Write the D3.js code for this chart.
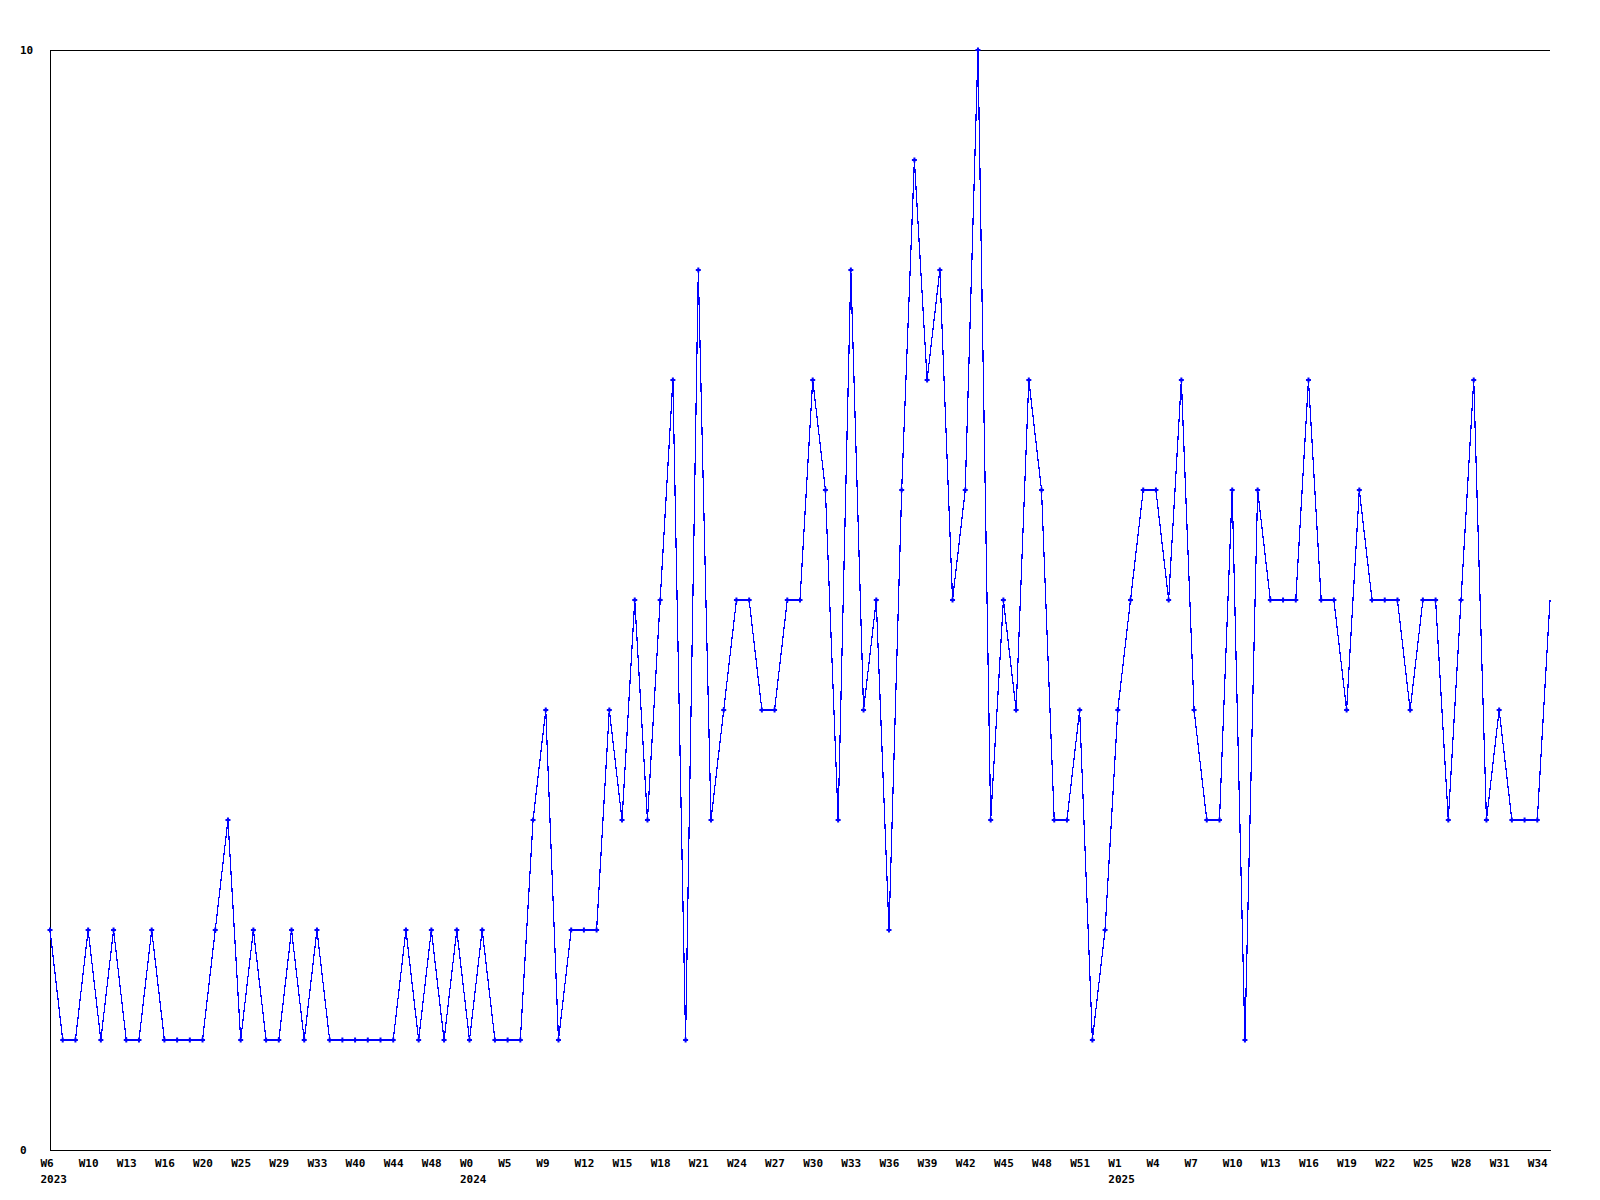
<!DOCTYPE html>
<html>
<head>
<meta charset="utf-8">
<script src="https://cdn.jsdelivr.net/npm/d3@7"></script>
<style>
  html, body { margin: 0; padding: 0; background: #ffffff; }
  svg { display: block; }
  text { font-family: "DejaVu Sans Mono", "Liberation Mono", monospace; font-weight: bold; font-size: 11px; fill: #000; }
</style>
</head>
<body>
<svg id="chart" width="1600" height="1200"></svg>
<script>
// Weekly counts, one value per point (index 0 = 2023 W6)
const values = [
  2,1,1,2,1,2,1,1,2,1,1,1,1,2,3,1,2,1,1,2,
  1,2,1,1,1,1,1,1,2,1,2,1,2,1,2,1,1,1,3,4,
  1,2,2,2,4,3,5,3,5,7,1,8,3,4,5,5,4,4,5,5,
  7,6,3,8,4,5,2,6,9,7,8,5,6,10,3,5,4,7,6,3,
  3,4,1,2,4,5,6,6,5,7,4,3,3,6,1,6,5,5,5,7,
  5,5,4,6,5,5,5,4,5,5,3,5,7,3,4,3,3,3,5
];
// x tick labels, one every 3 points starting at index 0
const tickLabels = [
  "W6","W10","W13","W16","W20","W25","W29","W33","W40","W44","W48",
  "W0","W5","W9","W12","W15","W18","W21","W24","W27","W30","W33","W36","W39","W42","W45","W48","W51",
  "W1","W4","W7","W10","W13","W16","W19","W22","W25","W28","W31","W34"
];
const tickStep = 3;
// year shown under a given tick label (by tick label position)
const yearTicks = [0, 11, 28];
const yearNames = ["2023", "2024", "2025"];
const yTickValues = [0, 10];

const svg = d3.select("#chart");
const x = d3.scaleLinear().domain([0, values.length - 1]).range([50, 1550]);
const y = d3.scaleLinear().domain([0, 10]).range([1150, 50]);

// top border
svg.append("line")
  .attr("x1", x(0)).attr("x2", x(values.length - 1))
  .attr("y1", y(10)).attr("y2", y(10))
  .attr("stroke", "#000").attr("stroke-width", 1)
  .attr("shape-rendering", "crispEdges");

const tickIdx = tickLabels.map((_, i) => i * tickStep);

const gx = svg.append("g").attr("transform", `translate(0,${y(0)})`)
  .call(d3.axisBottom(x).tickValues(tickIdx).tickSize(0).tickSizeOuter(0)
    .tickFormat((d, i) => tickLabels[i]));
gx.select(".domain").attr("stroke", "#000").attr("shape-rendering", "crispEdges");
gx.selectAll(".tick text")
  .attr("text-anchor", "start").attr("x", -10).attr("y", 17).attr("dy", null)
  .attr("fill", "#000").style("font-size", "11px");
gx.selectAll(".tick").each(function (d, i) {
  const k = yearTicks.indexOf(i);
  if (k >= 0) {
    d3.select(this).append("text")
      .attr("text-anchor", "start").attr("x", -10).attr("y", 32.5)
      .attr("fill", "#000").text(yearNames[k]);
  }
});

const gy = svg.append("g").attr("transform", `translate(${x(0)},0)`)
  .call(d3.axisLeft(y).tickValues(yTickValues).tickSize(0).tickSizeOuter(0)
    .tickFormat(d3.format("d")));
gy.select(".domain").attr("stroke", "#000").attr("shape-rendering", "crispEdges");
gy.selectAll(".tick text")
  .attr("text-anchor", "start").attr("x", -30).attr("fill", "#000");

// series line
const line = d3.line().x((d, i) => x(i)).y(d => y(d));
svg.append("path")
  .datum(values)
  .attr("d", line)
  .attr("fill", "none")
  .attr("stroke", "#0000ff")
  .attr("stroke-width", 1.2)
  .attr("shape-rendering", "crispEdges");

// point markers (all but the last point)
svg.append("g").selectAll("path")
  .data(values.slice(0, values.length - 1))
  .join("path")
  .attr("transform", (d, i) => `translate(${x(i)},${y(d)})`)
  .attr("d", "M-2.5,0H2.5M0,-2.5V2.5")
  .attr("stroke", "#0000ff")
  .attr("stroke-width", 2)
  .attr("fill", "none");
</script>
</body>
</html>
